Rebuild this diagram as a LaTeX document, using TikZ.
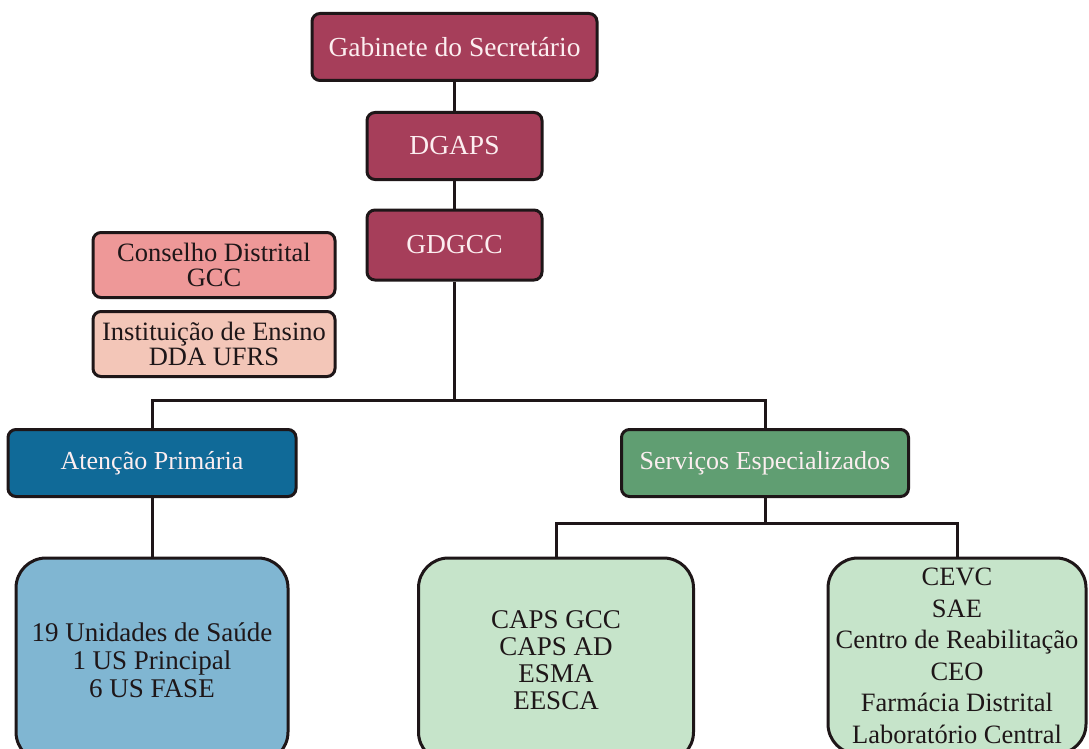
\documentclass[tikz,border=0pt]{standalone}
\usepackage{fontspec}
\setmainfont{Liberation Serif}
\definecolor{maroon}{RGB}{166,62,90}
\definecolor{pinkA}{RGB}{238,152,152}
\definecolor{peach}{RGB}{243,198,184}
\definecolor{blueA}{RGB}{16,106,152}
\definecolor{greenA}{RGB}{96,158,114}
\definecolor{lblue}{RGB}{128,182,210}
\definecolor{lgreen}{RGB}{198,228,202}
\definecolor{edge}{RGB}{30,22,24}
\definecolor{paletxt}{RGB}{252,238,240}
\tikzset{
  box/.style={draw=edge, line width=3pt, rounded corners=8pt, align=center, inner sep=0pt,
    font=\fontsize{26}{28}\selectfont},
  topbox/.style={box, fill=maroon, text=paletxt, minimum height=67pt},
  sidebox/.style={box, text=edge, minimum width=242pt, minimum height=65pt, font=\fontsize{26.5}{25}\selectfont},
  midbox/.style={box, text=paletxt, minimum width=287pt, minimum height=67pt},
  bigbox/.style={box, rounded corners=30pt, text=edge, minimum height=204pt},
  conn/.style={draw=edge, line width=3pt}
}
\begin{document}
\begin{tikzpicture}[x=1pt,y=-1pt]
\useasboundingbox (0,0) rectangle (1089,749);
\clip (0,0) rectangle (1089,749);
\fill[white] (0,0) rectangle (1089,749);
% nodes
\node[topbox, minimum width=285pt, font=\fontsize{27.5}{28}\selectfont] (gab) at (454.5,47) {Gabinete do Secretário};
\node[topbox, minimum width=175pt, font=\fontsize{27.5}{28}\selectfont] (dgaps) at (454.5,146) {DGAPS};
\node[topbox, minimum width=175pt, minimum height=70pt, font=\fontsize{27.5}{28}\selectfont] (gdgcc) at (454.5,245) {GDGCC};
\node[sidebox, fill=pinkA] (cons) at (214,265) {Conselho Distrital\\GCC};
\node[sidebox, fill=peach] (inst) at (214,344) {Instituição de Ensino\\DDA UFRS};
\node[midbox, fill=blueA, minimum width=288pt] (aten) at (152,463) {Atenção Primária};
\node[midbox, fill=greenA] (serv) at (765,463) {Serviços Especializados};
\node[bigbox, fill=lblue, minimum width=272pt, font=\fontsize{27}{28}\selectfont] (us) at (152,660)
  {19 Unidades de Saúde\\1 US Principal\\6 US FASE};
\node[bigbox, fill=lgreen, minimum width=275pt, font=\fontsize{27}{27}\selectfont] (caps) at (556,660)
  {CAPS GCC\\CAPS AD\\ESMA\\EESCA};
\node[bigbox, fill=lgreen, minimum width=258pt, minimum height=196pt, font=\fontsize{26.5}{31.5}\selectfont] (cevc) at (957,656)
  {CEVC\\SAE\\Centro de Reabilitação\\CEO\\Farmácia Distrital\\Laboratório Central};
% junctions
\coordinate (j1) at (454.5,400);
\coordinate (j2) at (765,523);
% connectors
\draw[conn] (gab.south) -- (dgaps.north);
\draw[conn] (dgaps.south) -- (gdgcc.north);
\draw[conn] (gdgcc.south) -- (j1);
\draw[conn] (aten.north) |- (j1) -| (serv.north);
\draw[conn] (aten.south) -- (us.north);
\draw[conn] (serv.south) -- (j2);
\draw[conn] (caps.north) |- (j2) -| (cevc.north);
\end{tikzpicture}
\end{document}
